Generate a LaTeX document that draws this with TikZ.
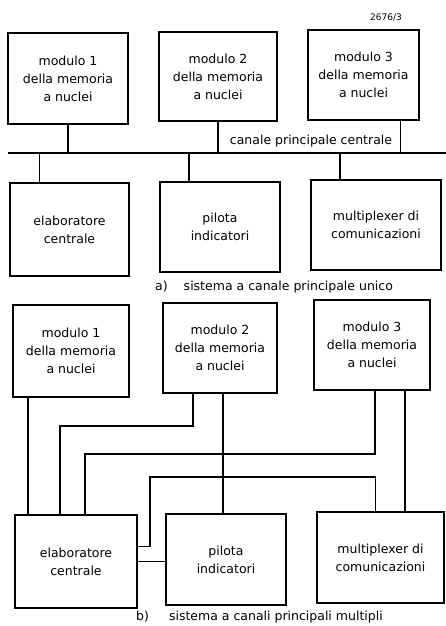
\documentclass[tikz,border=0pt]{standalone}
\usepackage{fontspec}
\setmainfont{DejaVu Sans}
\usetikzlibrary{positioning}
\begin{document}
\begin{tikzpicture}[x=1pt,y=-1pt,
  every node/.style={font=\fontsize{12.5}{18}\selectfont,align=center,inner sep=1pt},
  blk/.style={draw,line width=2.2pt},
  wire/.style={line width=1.3pt}]
  \useasboundingbox (0,0) rectangle (446,626);
  \node[font=\fontsize{9}{10}\selectfont] (ref) at (386,18) {2676/3};
  % a) sistema a canale principale unico
  \node[blk,minimum width=120pt,minimum height=91pt] (m1a) at (68,78.5) {modulo 1\\della memoria\\a nuclei};
  \node[blk,minimum width=118pt,minimum height=89pt] (m2a) at (218,76.5) {modulo 2\\della memoria\\a nuclei};
  \node[blk,minimum width=111pt,minimum height=90pt] (m3a) at (363.5,75) {modulo 3\\della memoria\\a nuclei};
  \node[blk,minimum width=119pt,minimum height=93pt] (elaba) at (69.5,229.5) {elaboratore\\centrale};
  \node[blk,minimum width=120pt,minimum height=90pt] (pila) at (220,227) {pilota\\indicatori};
  \node[blk,minimum width=130pt,minimum height=90pt] (muxa) at (376,225) {multiplexer di\\comunicazioni};
  \coordinate (busL) at (8,153);
  \coordinate (busR) at (446,153);
  \draw[wire] (busL) -- (busR);
  \node (bus) at (311,141) {canale principale centrale};
  \draw[wire] (m1a) -- (m1a |- busL);
  \draw[wire] (m2a) -- (m2a |- busL);
  \draw[wire] ([xshift=37pt]m3a.south) -- ([xshift=37pt]m3a.south |- busL);
  \draw[wire] ([xshift=-30pt]elaba.north) -- ([xshift=-30pt]elaba.north |- busL);
  \draw[wire] ([xshift=-31pt]pila.north) -- ([xshift=-31pt]pila.north |- busL);
  \draw[wire] ([xshift=-36pt]muxa.north) -- ([xshift=-36pt]muxa.north |- busL);
  \node[anchor=west] (capa) at (154,287) {a)\hspace{16pt}sistema a canale principale unico};
  % b) sistema a canali principali multipli
  \node[blk,minimum width=116pt,minimum height=92pt] (m1b) at (71,351) {modulo 1\\della memoria\\a nuclei};
  \node[blk,minimum width=114pt,minimum height=90pt] (m2b) at (220,348) {modulo 2\\della memoria\\a nuclei};
  \node[blk,minimum width=116pt,minimum height=90pt] (m3b) at (372,345) {modulo 3\\della memoria\\a nuclei};
  \node[blk,minimum width=122pt,minimum height=93pt] (elabb) at (76,561.5) {elaboratore\\centrale};
  \node[blk,minimum width=120pt,minimum height=91pt] (pilb) at (226,559.5) {pilota\\indicatori};
  \node[blk,minimum width=127pt,minimum height=91pt] (muxb) at (380.5,557.5) {multiplexer di\\comunicazioni};
  \draw[wire] ([xshift=-43pt]m1b.south) -- ([xshift=-43pt]m1b.south |- elabb.north);
  \draw[wire] ([xshift=-27pt]m2b.south) -- ++(0,32) -| ([xshift=-16pt]elabb.north);
  \draw[wire] ([xshift=3pt]m2b.south) -- ([xshift=3pt]m2b.south |- pilb.north);
  \draw[wire] ([xshift=3pt]m3b.south) -- ++(0,63) -| ([xshift=9pt]elabb.north);
  \draw[wire] ([xshift=33pt]m3b.south) -- ([xshift=33pt]m3b.south |- muxb.north);
  \draw[wire] ([yshift=15pt]elabb.east) -| (150,477) -| ([xshift=-5pt]muxb.north);
  \draw[wire] (elabb.east) -- (elabb.east -| pilb.west);
  \node[anchor=west] (capb) at (135,617) {b)\hspace{20pt}sistema a canali principali multipli};
\end{tikzpicture}
\end{document}
